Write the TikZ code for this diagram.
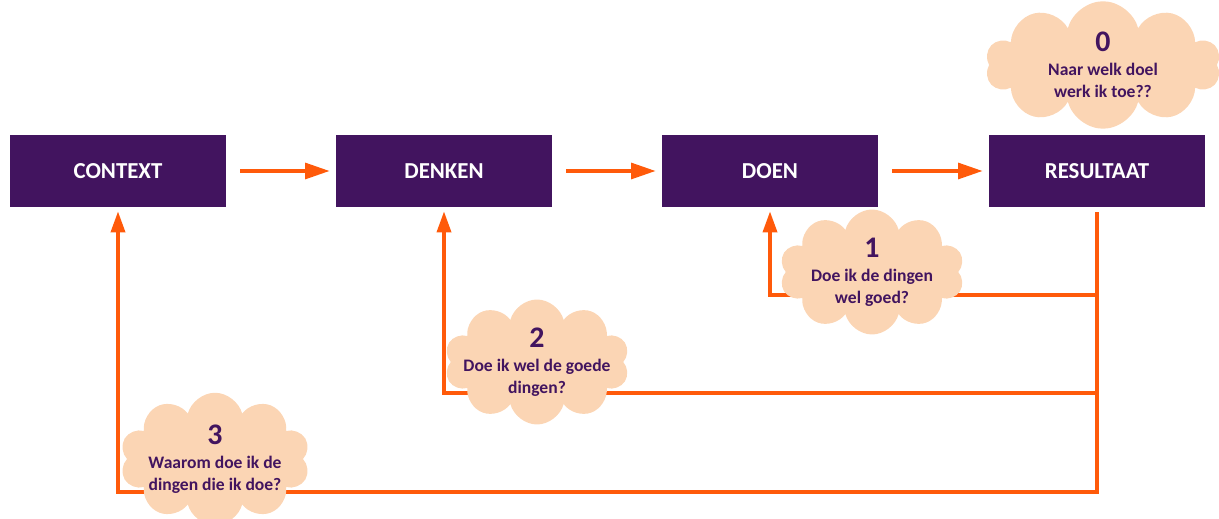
\documentclass[tikz,border=0pt]{standalone}
\usepackage{fontspec}
\setmainfont{Carlito}
\usepackage{tikz}
\usetikzlibrary{arrows.meta,shapes.symbols}

\definecolor{paars}{HTML}{42145F}
\definecolor{perzik}{HTML}{FBD5B4}
\definecolor{oranje}{HTML}{FF5A0A}

\tikzset{
  stap/.style={rectangle, fill=paars, text=white, font=\bfseries\fontsize{13}{15}\selectfont,
    minimum width=4.32cm, minimum height=1.44cm},
  wolk/.style={cloud, cloud puffs=10, cloud ignores aspect, fill=perzik, inner sep=0pt},
  vraag/.style={text=paars, align=center, font=\bfseries\fontsize{10}{12.5}\selectfont},
  pijl/.style={oranje, line width=2pt, -{Triangle[length=14pt,width=9pt]}},
  terug/.style={oranje, line width=2pt, -{Triangle[length=12pt,width=8pt]}}
}

\begin{document}
\begin{tikzpicture}[x=0.02cm,y=-0.02cm]
\useasboundingbox (0,0) rectangle (1219,519);
% Stappen
\node[stap] (context) at (118,171) {CONTEXT};
\node[stap] (denken) at (444,171) {DENKEN};
\node[stap] (doen) at (770,171) {DOEN};
\node[stap] (resultaat) at (1097,171) {RESULTAAT};
% Pijlen
\draw[pijl, shorten <=0.28cm, shorten >=0.12cm] (context) -- (denken);
\draw[pijl, shorten <=0.28cm, shorten >=0.12cm] (denken) -- (doen);
\draw[pijl, shorten <=0.28cm, shorten >=0.12cm] (doen) -- (resultaat);
% Terugkoppeling
\coordinate (lus1) at (1097,295);
\coordinate (lus2) at (1097,393);
\coordinate (lus3) at (1097,492);
\draw[terug, shorten <=0.1cm, shorten >=0.08cm] (resultaat.south) -- (lus3) -| (context.south);
\draw[terug, shorten >=0.08cm] (lus2) -| (denken.south);
\draw[terug, shorten >=0.08cm] (lus1) -| (doen.south);
% Wolken
\node[wolk, minimum width=4.7cm, minimum height=2.55cm] (wolk0) at (1103,65) {};
\node[wolk, minimum width=3.7cm, minimum height=2.5cm] (wolk1) at (872,272) {};
\node[wolk, minimum width=3.7cm, minimum height=2.5cm] (wolk2) at (537,362) {};
\node[wolk, minimum width=3.8cm, minimum height=2.65cm] (wolk3) at (215,459) {};
% Vragen
\node[vraag] (vraag0) at (wolk0) {{\fontsize{17}{19}\selectfont 0}\\[1pt] Naar welk doel\\ werk ik toe??};
\node[vraag] (vraag1) at (wolk1) {{\fontsize{17}{19}\selectfont 1}\\[1pt] Doe ik de dingen\\ wel goed?};
\node[vraag] (vraag2) at (wolk2) {{\fontsize{17}{19}\selectfont 2}\\[1pt] Doe ik wel de goede\\ dingen?};
\node[vraag] (vraag3) at (wolk3) {{\fontsize{17}{19}\selectfont 3}\\[1pt] Waarom doe ik de\\ dingen die ik doe?};
\end{tikzpicture}
\end{document}
